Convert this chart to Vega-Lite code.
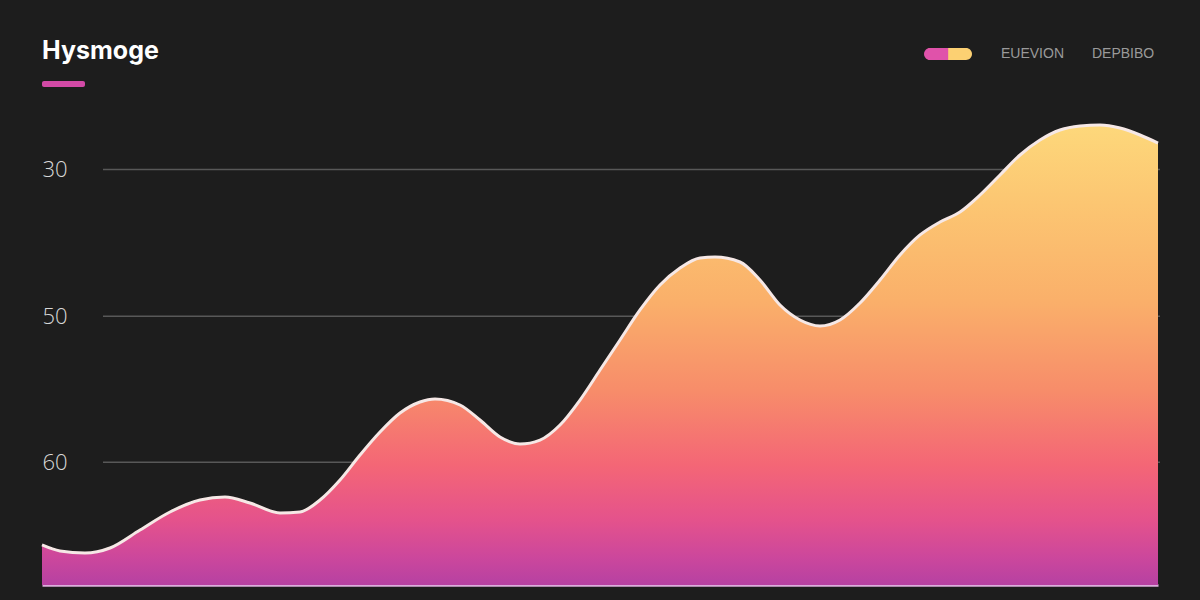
{
  "$schema": "https://vega.github.io/schema/vega-lite/v6.json",
  "autosize": {"type": "none"},
  "width": 1116,
  "height": 482,
  "padding": {"left": 42, "top": 103, "right": 42, "bottom": 15},
  "background": "#1d1d1d",
  "title": {
    "text": "Hysmoge",
    "anchor": "start",
    "frame": "group",
    "orient": "top",
    "baseline": "alphabetic",
    "offset": -53.5,
    "font": "Inter",
    "fontSize": 25,
    "fontWeight": "bold",
    "color": "#ffffff"
  },
  "datasets": {
    "series": [
      {"x": 0, "y": 5.48}, {"x": 18, "y": 4.66}, {"x": 43, "y": 4.38}, {"x": 68, "y": 5.07},
      {"x": 98, "y": 7.53}, {"x": 128, "y": 10.0}, {"x": 158, "y": 11.64}, {"x": 183, "y": 12.05},
      {"x": 208, "y": 11.23}, {"x": 238, "y": 9.86}, {"x": 258, "y": 10.0}, {"x": 278, "y": 11.64},
      {"x": 298, "y": 14.38}, {"x": 318, "y": 17.8}, {"x": 338, "y": 20.95}, {"x": 358, "y": 23.55},
      {"x": 378, "y": 25.06}, {"x": 393, "y": 25.47}, {"x": 418, "y": 24.65}, {"x": 438, "y": 22.59},
      {"x": 458, "y": 20.27}, {"x": 478, "y": 19.31}, {"x": 498, "y": 19.85}, {"x": 518, "y": 21.91},
      {"x": 538, "y": 25.33}, {"x": 558, "y": 29.44}, {"x": 578, "y": 33.55}, {"x": 598, "y": 37.66},
      {"x": 618, "y": 41.08}, {"x": 638, "y": 43.41}, {"x": 658, "y": 44.78}, {"x": 673, "y": 44.91},
      {"x": 698, "y": 44.23}, {"x": 718, "y": 41.76}, {"x": 738, "y": 38.34}, {"x": 758, "y": 36.29},
      {"x": 778, "y": 35.47}, {"x": 798, "y": 36.29}, {"x": 818, "y": 38.61}, {"x": 838, "y": 41.76},
      {"x": 858, "y": 45.19}, {"x": 878, "y": 47.93}, {"x": 898, "y": 49.71}, {"x": 918, "y": 51.08},
      {"x": 938, "y": 53.4}, {"x": 958, "y": 56.14}, {"x": 978, "y": 58.88}, {"x": 998, "y": 60.93},
      {"x": 1018, "y": 62.3}, {"x": 1038, "y": 62.85}, {"x": 1058, "y": 62.99}, {"x": 1078, "y": 62.58},
      {"x": 1098, "y": 61.62}, {"x": 1116, "y": 60.52}
    ],
    "grid": [{"g": 16.8}, {"g": 36.8}, {"g": 56.9}],
    "legend": [{"a": "EUEVION", "b": "DEPBIBO"}]
  },
  "config": {
    "view": {"stroke": null},
    "axis": {"grid": false, "ticks": false, "title": null}
  },
  "layer": [
    {
      "data": {"name": "grid"},
      "mark": {"type": "rule", "color": "#585858", "strokeWidth": 1.5},
      "encoding": {
        "x": {"datum": 61, "type": "quantitative", "scale": {"domain": [0, 1116], "nice": false}},
        "x2": {"datum": 1118},
        "y": {"field": "g", "type": "quantitative", "scale": {"domain": [0, 66], "nice": false}}
      }
    },
    {
      "data": {"name": "series"},
      "mark": {
        "type": "area",
        "interpolate": "monotone",
        "color": {
          "gradient": "linear",
          "x1": 0, "y1": 0, "x2": 0, "y2": 1,
          "stops": [
            {"offset": 0, "color": "#fdd87b"},
            {"offset": 0.17, "color": "#fcc672"},
            {"offset": 0.38, "color": "#fab06a"},
            {"offset": 0.58, "color": "#f78c6a"},
            {"offset": 0.74, "color": "#f46676"},
            {"offset": 0.86, "color": "#e4528c"},
            {"offset": 0.94, "color": "#cc479c"},
            {"offset": 1, "color": "#b641a2"}
          ]
        }
      },
      "encoding": {
        "x": {"field": "x", "type": "quantitative", "scale": {"domain": [0, 1116], "nice": false},
              "axis": {"labels": false, "domain": true, "domainColor": "#dcaedc", "domainWidth": 2.5}},
        "y": {"field": "y", "type": "quantitative", "scale": {"domain": [0, 66], "nice": false},
              "axis": {"values": [16.8, 36.8, 56.9], "domain": false,
                       "labelExpr": "datum.value < 20 ? '60' : datum.value < 40 ? '50' : '30'",
                       "labelAlign": "left", "labelPadding": 0, "labelBaseline": "middle",
                       "labelFont": "Open Sans", "labelFontSize": 22, "labelFontWeight": 300,
                       "labelColor": "#d8d8d8"}}
      }
    },
    {
      "data": {"name": "series"},
      "mark": {"type": "line", "interpolate": "monotone", "color": "#f6e8e6", "strokeWidth": 3},
      "encoding": {
        "x": {"field": "x", "type": "quantitative"},
        "y": {"field": "y", "type": "quantitative"}
      }
    },
    {
      "data": {"values": [{"k": "bar"}]},
      "mark": {"type": "rect", "color": "#d24aa6", "cornerRadius": 2},
      "encoding": {
        "x": {"datum": 0, "type": "quantitative"},
        "x2": {"datum": 43},
        "y": {"datum": 69.0, "type": "quantitative"},
        "y2": {"datum": 68.2}
      }
    },
    {
      "data": {"name": "legend"},
      "transform": [{"filter": "false"}],
      "mark": {"type": "point", "filled": true, "opacity": 1},
      "encoding": {
        "color": {
          "field": "a", "type": "nominal",
          "scale": {"domain": ["EUEVION"], "range": ["#fcd072"]},
          "legend": {
            "orient": "none", "legendX": 883, "legendY": -72.5,
            "title": null,
            "symbolType": "M-0.745,-0.255L0.745,-0.255A0.255,0.255 0 0 1 0.745,0.255L-0.745,0.255A0.255,0.255 0 0 1 -0.745,-0.255Z",
            "symbolSize": 2209, "symbolStrokeWidth": 0, "symbolOpacity": 1,
            "labelOffset": 29,
            "labelFont": "Liberation Sans", "labelFontSize": 14, "labelColor": "#9a9a9a"
          }
        },
        "shape": {
          "field": "b", "type": "nominal",
          "scale": {"domain": ["DEPBIBO"], "range": ["M-22.8,-1L-25.83,-1A1,1 0 0 0 -25.83,1L-22.8,1Z"]},
          "legend": {
            "orient": "none", "legendX": 1036, "legendY": -56,
            "title": null,
            "symbolSize": 144, "symbolOpacity": 1, "symbolStrokeWidth": 0,
            "symbolFillColor": "#e052aa",
            "labelOffset": 0,
            "labelFont": "Liberation Sans", "labelFontSize": 14, "labelColor": "#9a9a9a"
          }
        }
      }
    }
  ]
}
